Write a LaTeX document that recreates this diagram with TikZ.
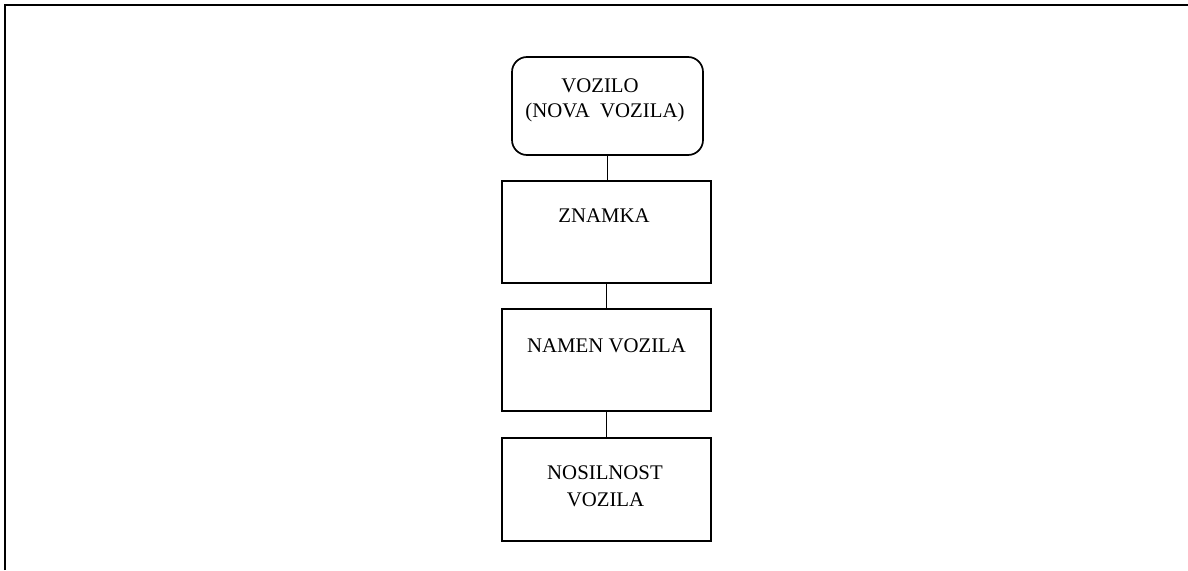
\documentclass[tikz,border=0pt]{standalone}
\usepackage{fontspec}
\setmainfont{Liberation Serif}
\begin{document}
\begin{tikzpicture}[x=1pt,y=-1pt,
  frameline/.style={line width=2.2pt,black},
  card/.style={draw=black,line width=1.7pt,rectangle,inner sep=0pt},
  roundcard/.style={card,rounded corners=15pt},
  link/.style={line width=1.8pt,black},
  lbl/.style={anchor=base,inner sep=0pt,font=\fontsize{20.8pt}{26pt}\selectfont}]
  \useasboundingbox (0,0) rectangle (1188,570);
  % open frame: top and left edges only
  \coordinate (fa) at (5,570);
  \coordinate (fb) at (5,5);
  \coordinate (fc) at (1188,5);
  \draw[frameline] (fa) -- (fb) -- (fc);
  % boxes
  \node[roundcard,minimum width=191pt,minimum height=98pt] (veh) at (607.5,106) {};
  \node[card,minimum width=209pt,minimum height=102pt] (brand) at (606.5,232) {};
  \node[card,minimum width=209pt,minimum height=102pt] (use) at (606.5,360) {};
  \node[card,minimum width=209pt,minimum height=103pt] (load) at (606.5,489.5) {};
  % labels
  \node[lbl] (t1) at (600,92) {VOZILO};
  \node[lbl] (t2) at (605,117) {(NOVA\ \ VOZILA)};
  \node[lbl] (t3) at (604,222) {ZNAMKA};
  \node[lbl] (t4) at (606.5,352) {NAMEN VOZILA};
  \node[lbl] (t5) at (605,479) {NOSILNOST};
  \node[lbl] (t6) at (605.5,506) {VOZILA};
  % vertical connectors between consecutive boxes
  \draw[link] (veh.south) -- (veh.south |- brand.north);
  \draw[link] (brand.south) -- (use.north);
  \draw[link] (use.south) -- (load.north);
\end{tikzpicture}
\end{document}
